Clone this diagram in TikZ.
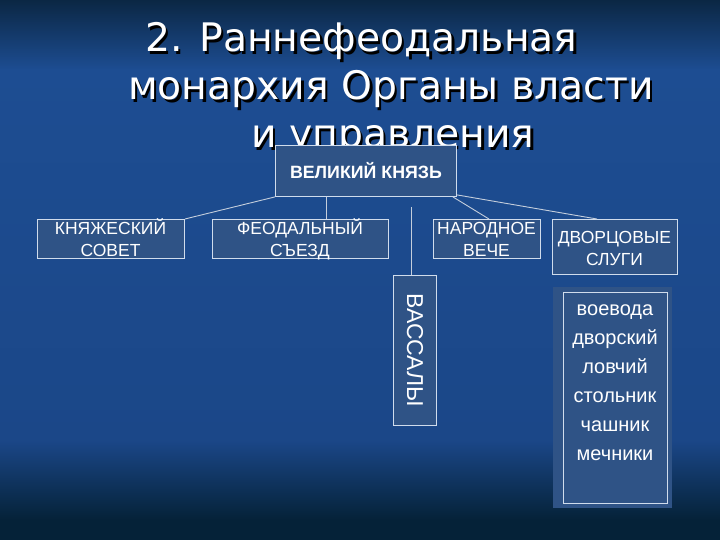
\documentclass[tikz,border=0pt]{standalone}
\usepackage{fontspec}
\setmainfont{Liberation Sans}
\newfontfamily\titlefont{DejaVu Sans}
\usetikzlibrary{calc}
\definecolor{bgtop}{HTML}{0B2744}
\definecolor{bgblue}{HTML}{1D4D92}
\definecolor{bgblue2}{HTML}{1B4788}
\definecolor{bgbot}{HTML}{052238}
\definecolor{boxfill}{HTML}{2F5386}
\definecolor{boxline}{HTML}{D0DCEC}
\newcommand\shadowed[1]{\makebox[0pt][l]{\hspace{2.5pt}\raisebox{-2.5pt}{\color{black}#1}}#1}
\tikzset{
  box/.style={draw=boxline, fill=boxfill, line width=0.9pt, inner sep=0pt, anchor=north west},
  lbl/.style={text=white, align=center, inner sep=0pt, anchor=base, font=\fontsize{17.5}{21}\selectfont},
  conn/.style={draw=boxline!85!gray, line width=0.9pt},
  ttl/.style={text=white, anchor=base west, inner sep=0pt, text height=28pt, text depth=8pt,
    font=\titlefont\fontsize{39.3}{48}\selectfont},
}
\begin{document}
\begin{tikzpicture}[x=1pt,y=-1pt]
\useasboundingbox (0,0) rectangle (720,540);
% background
\fill[top color=bgtop, bottom color=bgblue] (0,0) rectangle (720,70);
\fill[top color=bgblue, bottom color=bgblue2] (0,69.5) rectangle (720,440);
\fill[top color=bgblue2, bottom color=bgbot] (0,439.5) rectangle (720,520);
\fill[bgbot] (0,519.5) rectangle (720,540);
% title
\node[ttl] (t1) at (145,52) {\shadowed{2. Раннефеодальная}};
\node[ttl] (t2) at (128,100) {\shadowed{монархия Органы власти}};
\node[ttl] (t3) at (251,148) {\shadowed{и управления}};
% boxes
\node[box, minimum width=181, minimum height=51] (vk) at (275,145) {};
\node[text=white, inner sep=0pt, font=\bfseries\fontsize{17.8}{20}\selectfont] (vkt) at (vk.center) {ВЕЛИКИЙ КНЯЗЬ};
\node[box, minimum width=147, minimum height=39] (ks) at (37,219) {};
\node[lbl] (kst) at (110.5,256) {КНЯЖЕСКИЙ\\СОВЕТ};
\node[box, minimum width=176, minimum height=39] (fs) at (212,219) {};
\node[lbl] (fst) at (300,256) {ФЕОДАЛЬНЫЙ\\СЪЕЗД};
\node[box, minimum width=107, minimum height=39] (nv) at (433,219) {};
\node[lbl] (nvt) at (486.5,256) {НАРОДНОЕ\\ВЕЧЕ};
\node[box, minimum width=125, minimum height=55] (ds) at (552,219) {};
\node[lbl] (dst) at (614.5,265) {ДВОРЦОВЫЕ\\СЛУГИ};
\node[box, minimum width=43, minimum height=150] (vs) at (393,275) {};
\node[text=white, inner sep=0pt, rotate=-90, font=\fontsize{23}{27}\selectfont] (vst) at (vs.center) {ВАССАЛЫ};
% list
\node[fill=boxfill, inner sep=0pt, anchor=north west, minimum width=119, minimum height=221] (lo) at (553,287) {};
\node[box, minimum width=104, minimum height=211] (li) at (563,292) {};
\node[text=white, align=center, inner sep=0pt, anchor=base, font=\fontsize{20}{29}\selectfont] (lt) at (615,460)
  {воевода\\дворский\\ловчий\\стольник\\чашник\\мечники};
% connectors
\draw[conn] (vk.south west) -- (ks.north east);
\draw[conn] ($(vk.south west)+(51,0)$) coordinate (fa) -- (fa |- fs.north);
\draw[conn] ($(vk.south east)+(-4,0)$) -- ($(nv.north)+(2,0)$);
\draw[conn] ($(vk.south east)+(0,-2)$) -- ($(ds.north)+(-18,0)$);
\coordinate (vtop) at (411,207);
\draw[conn] (vtop) -- (vtop |- vs.north);
\end{tikzpicture}
\end{document}
